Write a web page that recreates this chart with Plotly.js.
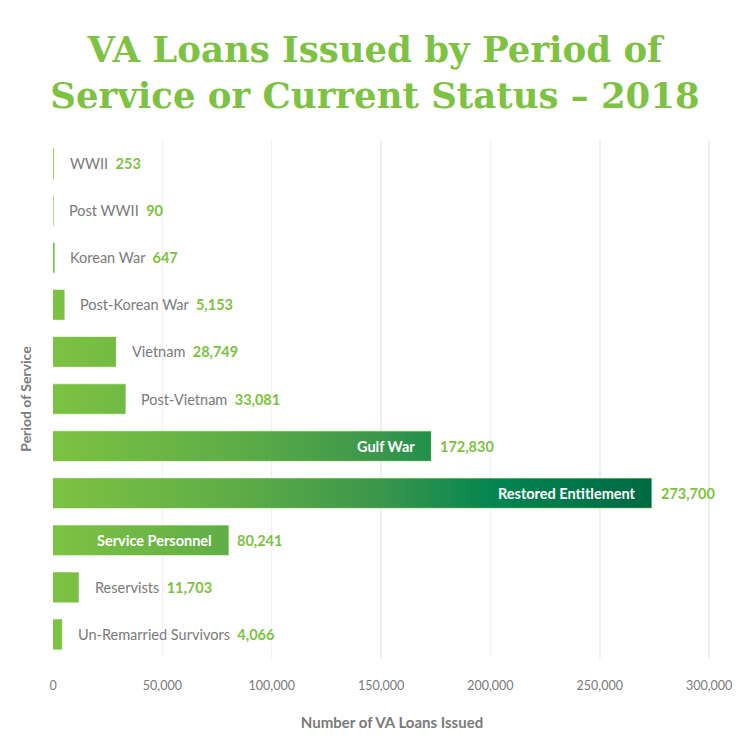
<!DOCTYPE html>
<html>
<head>
<meta charset="utf-8">
<script src="https://cdn.plot.ly/plotly-3.0.1.min.js"></script>
<style>
  html, body { margin:0; padding:0; background:#fff; }
  #chart { width:750px; height:750px; }
</style>
</head>
<body>
<div id="chart"></div>
<script>
const categories = ['WWII', 'Post WWII', 'Korean War', 'Post-Korean War', 'Vietnam', 'Post-Vietnam',
  'Gulf War', 'Restored Entitlement', 'Service Personnel', 'Reservists', 'Un-Remarried Survivors'];
const loans = [253, 90, 647, 5153, 28749, 33081, 172830, 273700, 80241, 11703, 4066];
const xTicks = [0, 50000, 100000, 150000, 200000, 250000, 300000];

const green = '#7dc242';
const grey = '#7a7a7a';
const half = 0.315; // half bar thickness, in category units

// each bar as a filled rectangle so it can carry the horizontal gradient
const bx = [], by = [];
loans.forEach(function(v, i){
  bx.push(0, v, v, 0, 0, null);
  by.push(i - half, i - half, i + half, i + half, i - half, null);
});

const bars = {
  type:'scatter', mode:'lines', x:bx, y:by, fill:'toself',
  line:{width:0.8, color:'rgba(125,194,66,0.6)'},
  fillcolor:green,
  fillgradient:{type:'horizontal', start:0, stop:Math.max.apply(null, loans),
    colorscale:[[0,'#7dc242'],[0.3,'#5fad47'],[0.55,'#3a964c'],[0.75,'#008450'],[1,'#006943']]},
  hoverinfo:'skip', showlegend:false
};

const fmt = v => v.toLocaleString('en-US');
const labelFont = 'Lato';
const annotations = [];
loans.forEach(function(v, i){
  if (v > 50000) {
    annotations.push({x:v, y:i, xref:'x', yref:'y', xanchor:'right', xshift:-14, showarrow:false,
      text:'<b>' + categories[i] + '</b>', font:{family:labelFont, size:14.5, color:'#ffffff'}});
    annotations.push({x:v, y:i, xref:'x', yref:'y', xanchor:'left', xshift:7, showarrow:false,
      text:'<b>' + fmt(v) + '</b>', font:{family:labelFont, size:14.5, color:green}});
  } else {
    annotations.push({x:v, y:i, xref:'x', yref:'y', xanchor:'left', xshift:14, showarrow:false,
      text:categories[i] + '  <b><span style="color:' + green + '">' + fmt(v) + '</span></b>',
      font:{family:labelFont, size:14.5, color:grey}});
  }
});

const layout = {
  width:750, height:750,
  margin:{t:140, b:92, l:53, r:19},
  paper_bgcolor:'#ffffff', plot_bgcolor:'#ffffff',
  title:{text:'VA Loans Issued by Period of<br>Service or Current Status \u2013 2018',
    font:{family:'DejaVu Serif', size:35.5, color:green, weight:'bold'},
    x:0.5, xanchor:'center', yref:'container', y:0.918, yanchor:'middle'},
  xaxis:{range:[0, 310000], tickvals:xTicks, tickformat:',d',
    showgrid:true, gridcolor:'#f0f0f0', gridwidth:1.5, zeroline:false, showline:false,
    ticks:'outside', ticklen:16, tickcolor:'rgba(0,0,0,0)',
    tickfont:{family:'Lato', size:12.5, color:grey},
    title:{text:'<b>Number of VA Loans Issued</b>', font:{family:'Lato', size:15, color:grey}, standoff:25}},
  yaxis:{range:[10.5, -0.5], showticklabels:false, showgrid:false, zeroline:false, showline:false,
    automargin:true,
    title:{text:'<b>Period of Service</b>', font:{family:'Lato', size:14, color:grey}, standoff:17}},
  annotations:annotations,
  showlegend:false
};

Plotly.newPlot('chart', [bars], layout, {displayModeBar:false, staticPlot:true});
</script>
</body>
</html>
